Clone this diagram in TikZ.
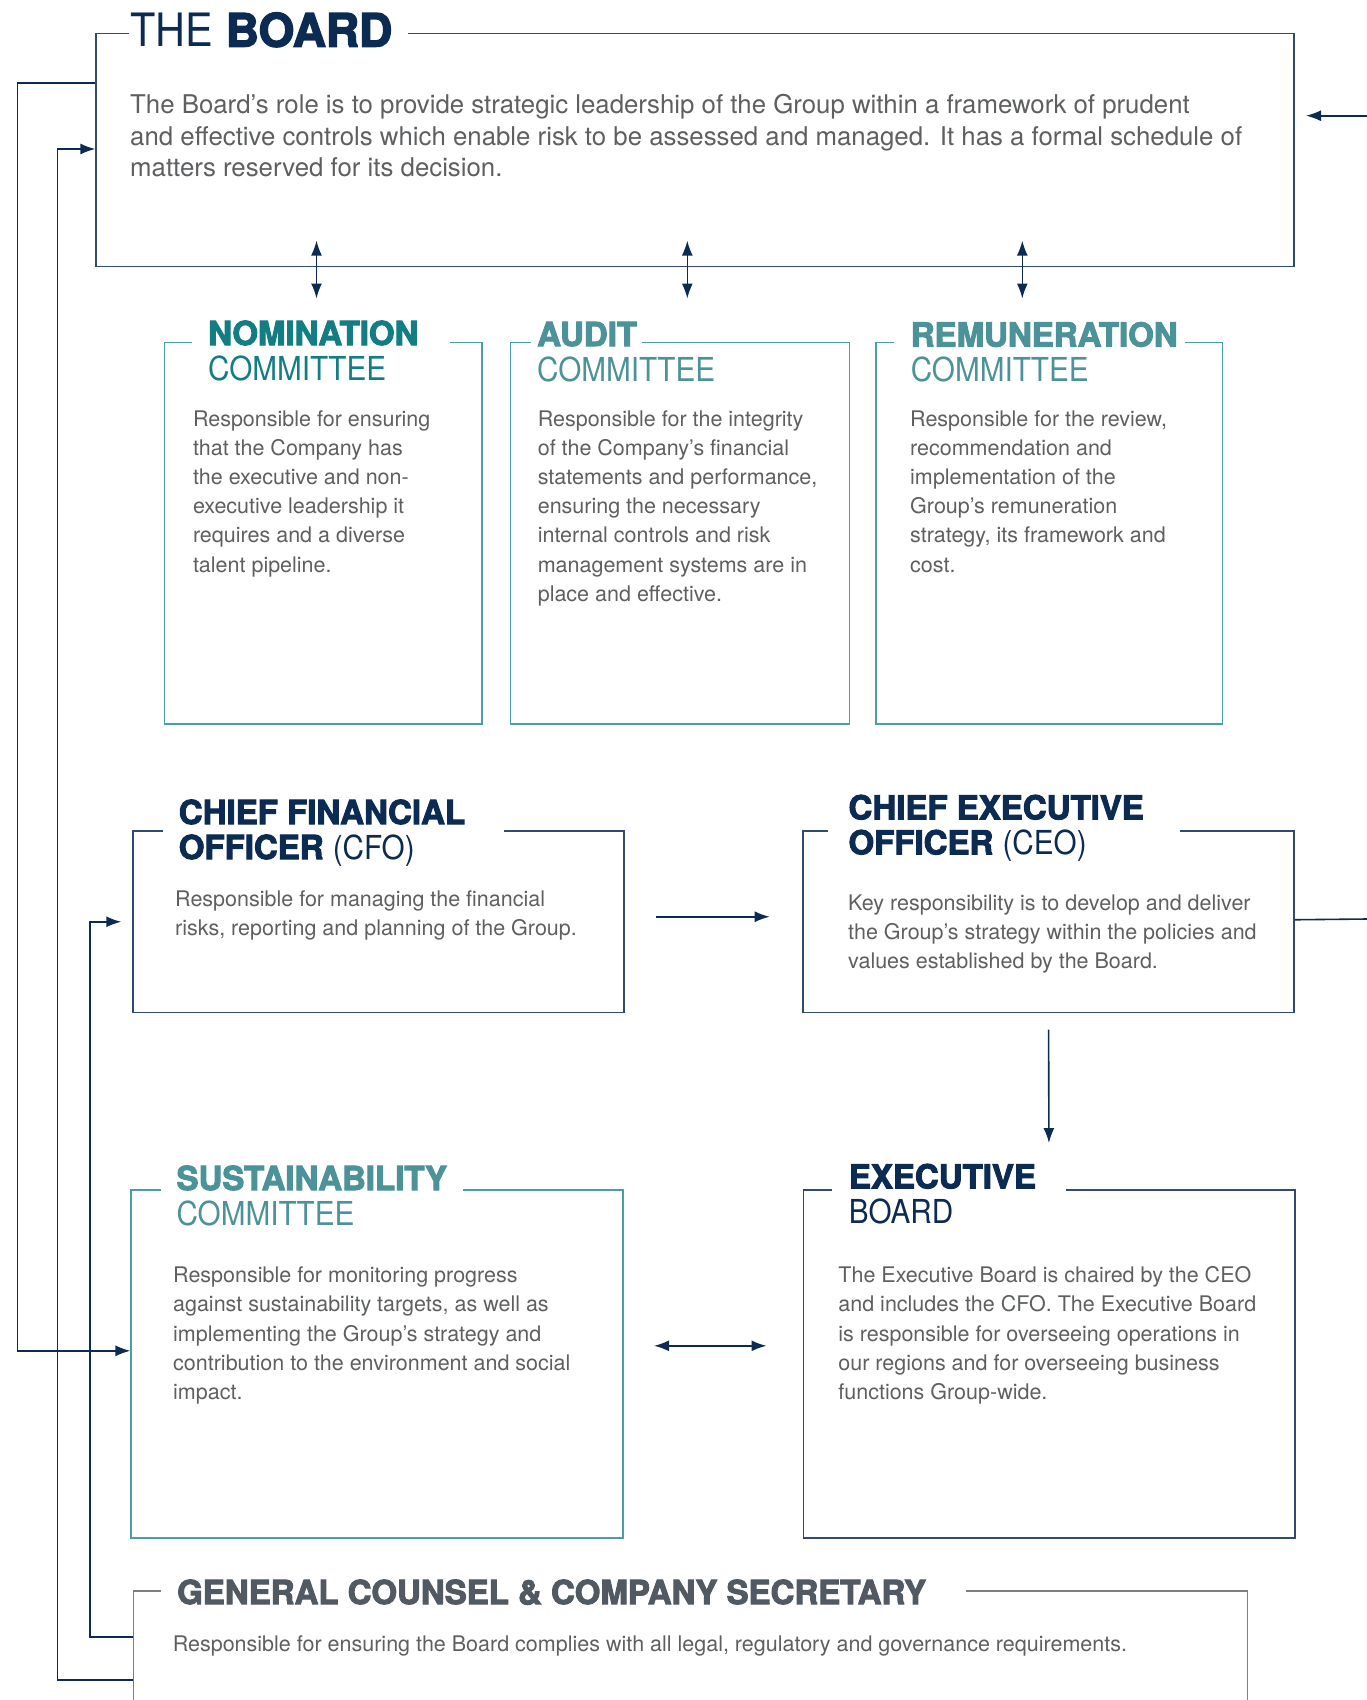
\documentclass[tikz,border=0pt]{standalone}
\usepackage{fontspec}
\setmainfont[BoldFeatures={FakeBold=3}]{TeX Gyre Heros}
\newfontfamily\lightfont[FakeStretch=0.9]{TeX Gyre Heros}
\usetikzlibrary{arrows.meta}
\usepackage{xcolor}

\definecolor{navy}{HTML}{0C2B52}
\definecolor{tealdark}{HTML}{137D84}
\definecolor{teallight}{HTML}{4C9299}
\definecolor{tealline}{HTML}{4A9EA6}
\definecolor{bodygrey}{HTML}{5E5F61}
\definecolor{gcgrey}{HTML}{515962}
\definecolor{gcline}{HTML}{7A7F84}

\begin{document}
\begin{tikzpicture}[x=1pt, y=-1pt]
\tikzstyle{frame} = [
	shape=rectangle,
	draw=navy!85, %navy border
	line width=1.6pt,
	anchor=north west,
	inner sep=0pt
];
\tikzstyle{cframe} = [frame, draw=tealline];
% multi-line nodes sit on the baseline of their last line
\tikzstyle{head} = [anchor=base west, align=left, inner sep=0pt, font=\fontsize{33}{35}\selectfont];
\tikzstyle{body} = [anchor=base west, align=left, inner sep=0pt, text=bodygrey, font=\fontsize{21.5}{29.2}\selectfont];
\tikzstyle{link} = [-{Latex[length=15pt,width=11pt]}, line width=1.6pt, color=navy];
\tikzstyle{dlink} = [{Latex[length=15pt,width=11pt]}-{Latex[length=15pt,width=11pt]}, line width=1.6pt, color=navy];

\clip (0,0) rectangle (1367,1700);

%boxes
\node[frame, minimum width=1198pt, minimum height=233pt](board) at (95.4,32.5) {};
\node[cframe, minimum width=317.6pt, minimum height=381.6pt](nom) at (163.7,341.5) {};
\node[cframe, minimum width=339.3pt, minimum height=381.6pt](aud) at (509.5,341.5) {};
\node[cframe, minimum width=346.9pt, minimum height=381.6pt](rem) at (874.9,341.5) {};
\node[frame, minimum width=491.1pt, minimum height=181.1pt](cfo) at (132.3,830.4) {};
\node[frame, minimum width=491.1pt, minimum height=181.1pt](ceo) at (802.2,830.4) {};
\node[cframe, minimum width=491.5pt, minimum height=348pt](sust) at (130.4,1189) {};
\node[frame, minimum width=491.5pt, minimum height=348pt](exec) at (802.5,1189) {};
\node[frame, draw=gcline, minimum width=1114.2pt, minimum height=200pt](gc) at (132.5,1590) {};

%openings in the top edges for the headings
\fill[white] (129,27) rectangle (408,38);
\fill[white] (192,336) rectangle (450,347);
\fill[white] (531,336) rectangle (641.8,347);
\fill[white] (894.4,336) rectangle (1185,347);
\fill[white] (163,825) rectangle (503.6,836);
\fill[white] (828,825) rectangle (1180,836);
\fill[white] (160.7,1183) rectangle (463.4,1195);
\fill[white] (832,1183) rectangle (1066.4,1195);
\fill[white] (161,1584) rectangle (966,1596);

%headings
\node[anchor=base west, inner sep=0pt, text=navy, font=\fontsize{46}{46}\selectfont](boardhead) at (130,46.6) {{\lightfont THE} \textbf{BOARD}};
\node[head, text=tealdark](nomhead) at (208,380) {\textbf{NOMINATION}\\{\lightfont COMMITTEE}};
\node[head, text=teallight](audhead) at (537,381) {\textbf{AUDIT}\\{\lightfont COMMITTEE}};
\node[head, text=teallight](remhead) at (910.6,381.5) {\textbf{REMUNERATION}\\{\lightfont COMMITTEE}};
\node[head, text=navy](cfohead) at (178.6,859) {\textbf{CHIEF FINANCIAL}\\\textbf{OFFICER} {\lightfont (CFO)}};
\node[head, text=navy](ceohead) at (848.3,854.3) {\textbf{CHIEF EXECUTIVE}\\\textbf{OFFICER} {\lightfont (CEO)}};
\node[head, text=teallight](susthead) at (176.3,1225) {\textbf{SUSTAINABILITY}\\{\lightfont COMMITTEE}};
\node[head, text=navy](exechead) at (848.7,1223.3) {\textbf{EXECUTIVE}\\{\lightfont BOARD}};
\node[head, text=gcgrey](gchead) at (177,1604) {\textbf{GENERAL COUNSEL \& COMPANY SECRETARY}};

%texts
\node[body, font=\fontsize{25.8}{31.7}\selectfont](boardtext) at (130,176.7) {The Board’s role is to provide strategic leadership of the Group within a framework of prudent\\and effective controls which enable risk to be assessed and managed. It has a formal schedule of\\matters reserved for its decision.};
\node[body](nomtext) at (192.8,572) {Responsible for ensuring\\that the Company has\\the executive and non-\\executive leadership it\\requires and a diverse\\talent pipeline.};
\node[body](audtext) at (537.6,601.2) {Responsible for the integrity\\of the Company’s financial\\statements and performance,\\ensuring the necessary\\internal controls and risk\\management systems are in\\place and effective.};
\node[body](remtext) at (910,572) {Responsible for the review,\\recommendation and\\implementation of the\\Group’s remuneration\\strategy, its framework and\\cost.};
\node[body](cfotext) at (175,935.9) {Responsible for managing the financial\\risks, reporting and planning of the Group.};
\node[body](ceotext) at (848,968.4) {Key responsibility is to develop and deliver\\the Group’s strategy within the policies and\\values established by the Board.};
\node[body](susttext) at (173,1399.5) {Responsible for monitoring progress\\against sustainability targets, as well as\\implementing the Group’s strategy and\\contribution to the environment and social\\impact.};
\node[body](exectext) at (838.2,1399.5) {The Executive Board is chaired by the CEO\\and includes the CFO. The Executive Board\\is responsible for overseeing operations in\\our regions and for overseeing business\\functions Group-wide.};
\node[body](gctext) at (172.6,1651.7) {Responsible for ensuring the Board complies with all legal, regulatory and governance requirements.};

%board and its committees
\coordinate (nomx) at (316.5,0);
\coordinate (audx) at (687.3,0);
\coordinate (remx) at (1022.3,0);
\draw[dlink, shorten <=-26.5pt, shorten >=43pt] (board.south -| nomx) -- (nom.north -| nomx);
\draw[dlink, shorten <=-26.5pt, shorten >=43pt] (board.south -| audx) -- (aud.north -| audx);
\draw[dlink, shorten <=-26.5pt, shorten >=43pt] (board.south -| remx) -- (rem.north -| remx);

%executive lines
\draw[link, shorten <=31pt, shorten >=32.5pt] ([yshift=5pt]cfo.east) -- ([yshift=5pt]ceo.west);
\draw[link, shorten <=16.5pt, shorten >=46pt] (ceo.south) -- (exec.north);
\draw[dlink, shorten <=30.5pt, shorten >=36pt] ([yshift=18pt]sust.east) -- ([yshift=18pt]exec.west);

%lines on the right edge
\coordinate (edgein) at (1367,115.7);
\coordinate (edgeout) at (1367,919);
\draw[link, shorten >=11pt] (edgein) -- (edgein -| board.east);
\draw[line width=1.6pt, color=navy] ([yshift=2pt]ceo.east) -- (edgeout);

%lines on the left edge
\draw[link] ([yshift=-50.2pt]board.north west) -- ++(-78,0) |- ([yshift=13pt]sust.west);
\draw[link] ([yshift=-90pt]gc.north west) -- ++(-75,0) |- ([yshift=-116.5pt]board.north west);
\draw[link, shorten >=11pt] ([yshift=-46.7pt]gc.north west) -- ++(-42.5,0) |- (cfo.west);

\end{tikzpicture}
\end{document}
